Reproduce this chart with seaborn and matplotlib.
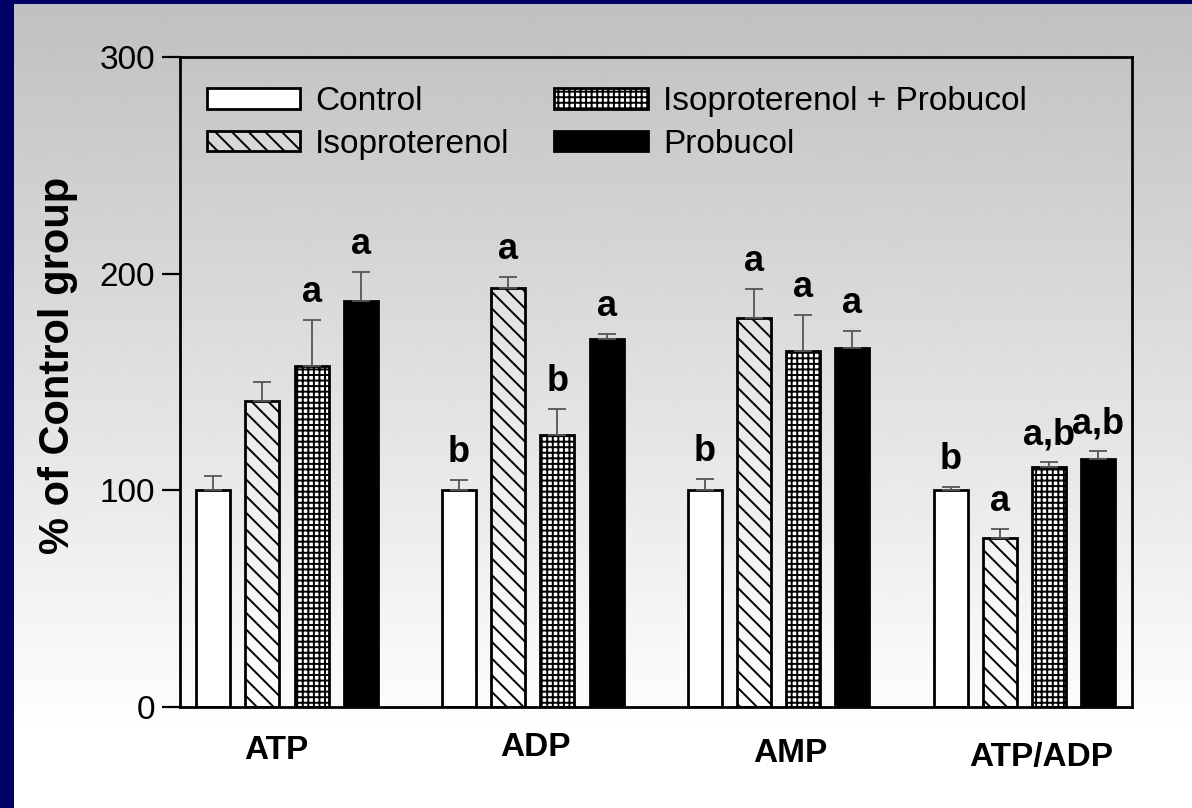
import numpy as np
import pandas as pd
import matplotlib
matplotlib.use("Agg")
import matplotlib.pyplot as plt
import matplotlib.transforms as mtransforms
import seaborn as sns

# ---------------- data ----------------
metrics = ["ATP", "ADP", "AMP", "ATP/ADP"]
groups = ["Control", "Isoproterenol", "Isoproterenol + Probucol", "Probucol"]

control_vals = [100.0, 100.0, 100.0, 100.0]
iso_vals = [141.4, 193.5, 179.4, 77.9]
combo_vals = [157.4, 125.5, 164.4, 110.6]
probucol_vals = [187.5, 169.7, 165.7, 114.6]

control_err = [6.6, 4.7, 5.4, 1.7]
iso_err = [8.6, 4.9, 13.6, 4.1]
combo_err = [21.2, 12.0, 16.5, 2.3]
probucol_err = [13.4, 2.6, 7.8, 3.4]

control_sig = ["", "b", "b", "b"]
iso_sig = ["", "a", "a", "a"]
combo_sig = ["a", "b", "a", "a,b"]
probucol_sig = ["a", "a", "a", "a,b"]

y_ticks = [0, 100, 200, 300]
y_label = "% of Control group"

values = [control_vals, iso_vals, combo_vals, probucol_vals]
errors = [control_err, iso_err, combo_err, probucol_err]
sigs = [control_sig, iso_sig, combo_sig, probucol_sig]

df = pd.DataFrame(
    [(m, g, values[gi][mi]) for gi, g in enumerate(groups) for mi, m in enumerate(metrics)],
    columns=["metric", "group", "value"],
)

# ---------------- style ----------------
plt.rcParams["font.family"] = ["Liberation Sans", "DejaVu Sans"]
plt.rcParams["hatch.linewidth"] = 1.4

W, H = 1192, 808
fig = plt.figure(figsize=(W / 100, H / 100), dpi=100, facecolor="#000066")

# background gradient panel
bg = fig.add_axes([14 / W, 0, (W - 14) / W, (H - 4) / H], zorder=0)
rows = np.arange(H - 4)
grad = np.clip(192 + rows * (63.0 / 736.0), 0, 255)[:, None] * np.ones((1, 4))
bg.imshow(grad, aspect="auto", cmap="gray", vmin=0, vmax=255,
          extent=[0, 1, 0, 1], interpolation="bilinear")
bg.axis("off")

ax = fig.add_axes([180 / W, (H - 707) / H, 952 / W, 650 / H], zorder=1)
ax.set_facecolor("none")

palette = {"Control": "white", "Isoproterenol": "white",
           "Isoproterenol + Probucol": "white", "Probucol": "black"}
sns.barplot(data=df, x="metric", y="value", hue="group", order=metrics,
            hue_order=groups, palette=palette, errorbar=None, width=0.8,
            gap=0.31, edgecolor="black", linewidth=2.0, saturation=1,
            legend=False, ax=ax)

bar_containers = list(ax.containers)

faces = ["white", (1, 1, 1, 0.25), "white", "black"]
hatches = [None, "\\\\", "+++", None]
for gi, cont in enumerate(bar_containers):
    for p in cont.patches:
        p.set_facecolor(faces[gi])
        p.set_edgecolor("black")
        p.set_linewidth(2.0)
        if hatches[gi]:
            p.set_hatch(hatches[gi])

# error bars (upper only) and significance letters
for gi, cont in enumerate(bar_containers):
    xs = [p.get_x() + p.get_width() / 2 for p in cont.patches]
    ys = [p.get_height() for p in cont.patches]
    errs = errors[gi]
    ax.errorbar(xs, ys, yerr=[np.zeros(len(errs)), errs], fmt="none",
                ecolor="#555555", elinewidth=1.3, capsize=6.5, capthick=1.3,
                zorder=4)
    for x, y, e, s in zip(xs, ys, errs, sigs[gi]):
        if s:
            ax.annotate(s, xy=(x, y + e), xytext=(0, 13), textcoords="offset points",
                        ha="center", va="baseline", fontsize=26, fontweight="bold",
                        color="black", zorder=5)

ax.set_xlim(-0.435, 3.437)
ax.set_ylim(0, 300)
ax.set_yticks(y_ticks)
ax.set_yticklabels([str(t) for t in y_ticks], fontsize=24)
ax.tick_params(axis="y", direction="out", length=13, width=1.6, pad=5, color="black")
ax.tick_params(axis="x", length=0, pad=20)
ax.set_xticks(range(len(metrics)))
ax.set_xticklabels(metrics, fontsize=24, fontweight="bold")
ax.set_xlabel("")
ax.set_ylabel(y_label, fontsize=30, fontweight="bold", va="center")
ax.yaxis.set_label_coords((58 - 180) / 952, (707 - 365) / 650)

# small nudges of category labels (pixels)
nudges = [(-11, 0), (3, 3), (12, -3), (17, -7)]
for lab, (dx, dy) in zip(ax.get_xticklabels(), nudges):
    lab.set_transform(lab.get_transform() +
                      mtransforms.ScaledTranslation(dx / 100, dy / 100, fig.dpi_scale_trans))

for sp in ax.spines.values():
    sp.set_linewidth(2.0)
    sp.set_color("black")
    sp.set_visible(True)

handles = [cont.patches[0] for cont in bar_containers]
leg = ax.legend(handles, groups, ncol=2, loc="upper left",
                bbox_to_anchor=(0.028, 0.955), frameon=False, fontsize=24,
                handlelength=2.8, handleheight=0.55, handletextpad=0.45,
                columnspacing=1.35, labelspacing=0.34, borderpad=0, borderaxespad=0)

fig.savefig("out.png", dpi=100, facecolor=fig.get_facecolor())
